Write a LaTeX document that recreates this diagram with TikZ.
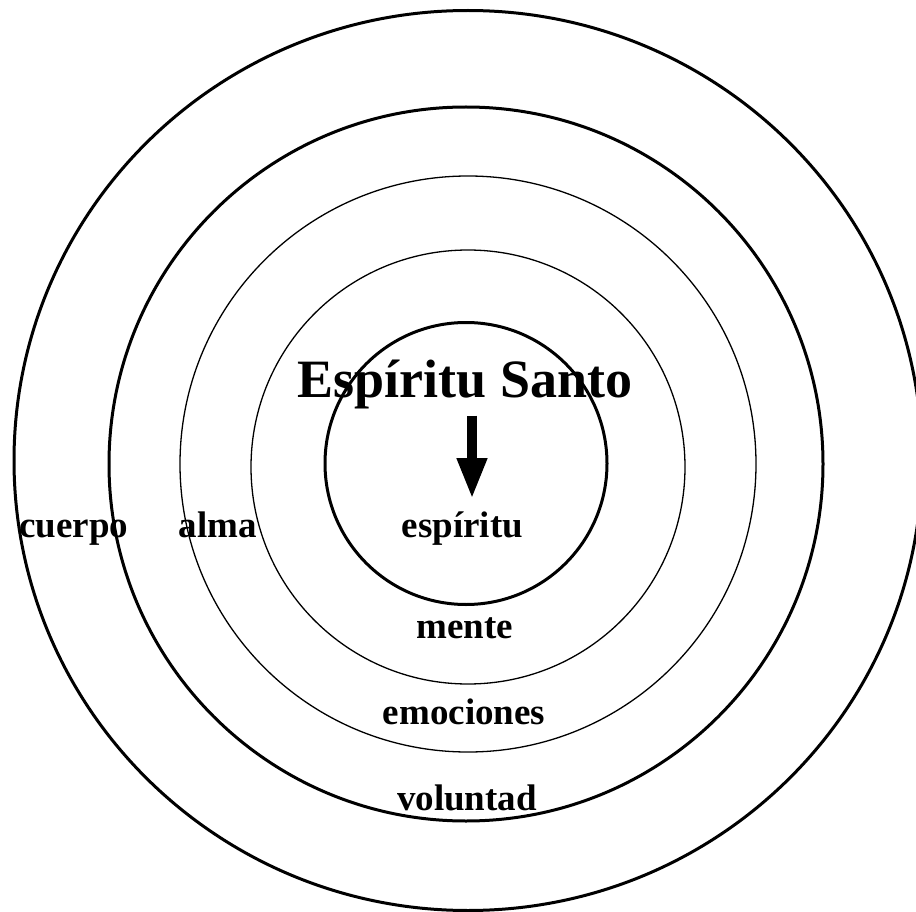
\documentclass[tikz,border=0pt]{standalone}
\usepackage{fontspec}
\setmainfont{Liberation Serif}
\usetikzlibrary{arrows.meta}
\tikzset{
  ring/.style={draw=black,line width=#1},
  ring/.default=3pt,
  word/.style={font=\fontsize{37}{44}\selectfont\bfseries,inner sep=0pt,anchor=base},
  title/.style={font=\fontsize{54}{64}\selectfont\bfseries,inner sep=0pt,anchor=base},
  bigarrow/.style={line width=10pt,shorten <=7pt,-{Triangle[width=28pt,length=41pt]}}
}
\begin{document}
\begin{tikzpicture}[x=1pt,y=-1pt]
  \useasboundingbox (0,0) rectangle (916,912);
  \clip (0,0) rectangle (916,912);
  % rings, outside in
  \draw[ring] (468,460.5) ellipse [x radius=454, y radius=450];
  \foreach \cx/\cy/\r/\w in {466/464/357/3pt, 468/464/288/1.3pt, 468/467/217/1.3pt, 466/463.5/141/3pt} {
    \draw[ring=\w] (\cx,\cy) circle [radius=\r];
  }
  % labels
  \node[title] (santo) at (465,397) {Espíritu Santo};
  \node[word] (espiritu) at (462.5,537) {espíritu};
  \node[word] (cuerpo) at (74,537) {cuerpo};
  \node[word] (alma) at (218,537) {alma};
  \node[word] (mente) at (464.5,638) {mente};
  \node[word] (emociones) at (464,724) {emociones};
  \node[word] (voluntad) at (467,810) {voluntad};
  % arrow
  \coordinate (tip) at (472,499);
  \draw[bigarrow] (santo.south -| tip) -- (tip);
\end{tikzpicture}
\end{document}
